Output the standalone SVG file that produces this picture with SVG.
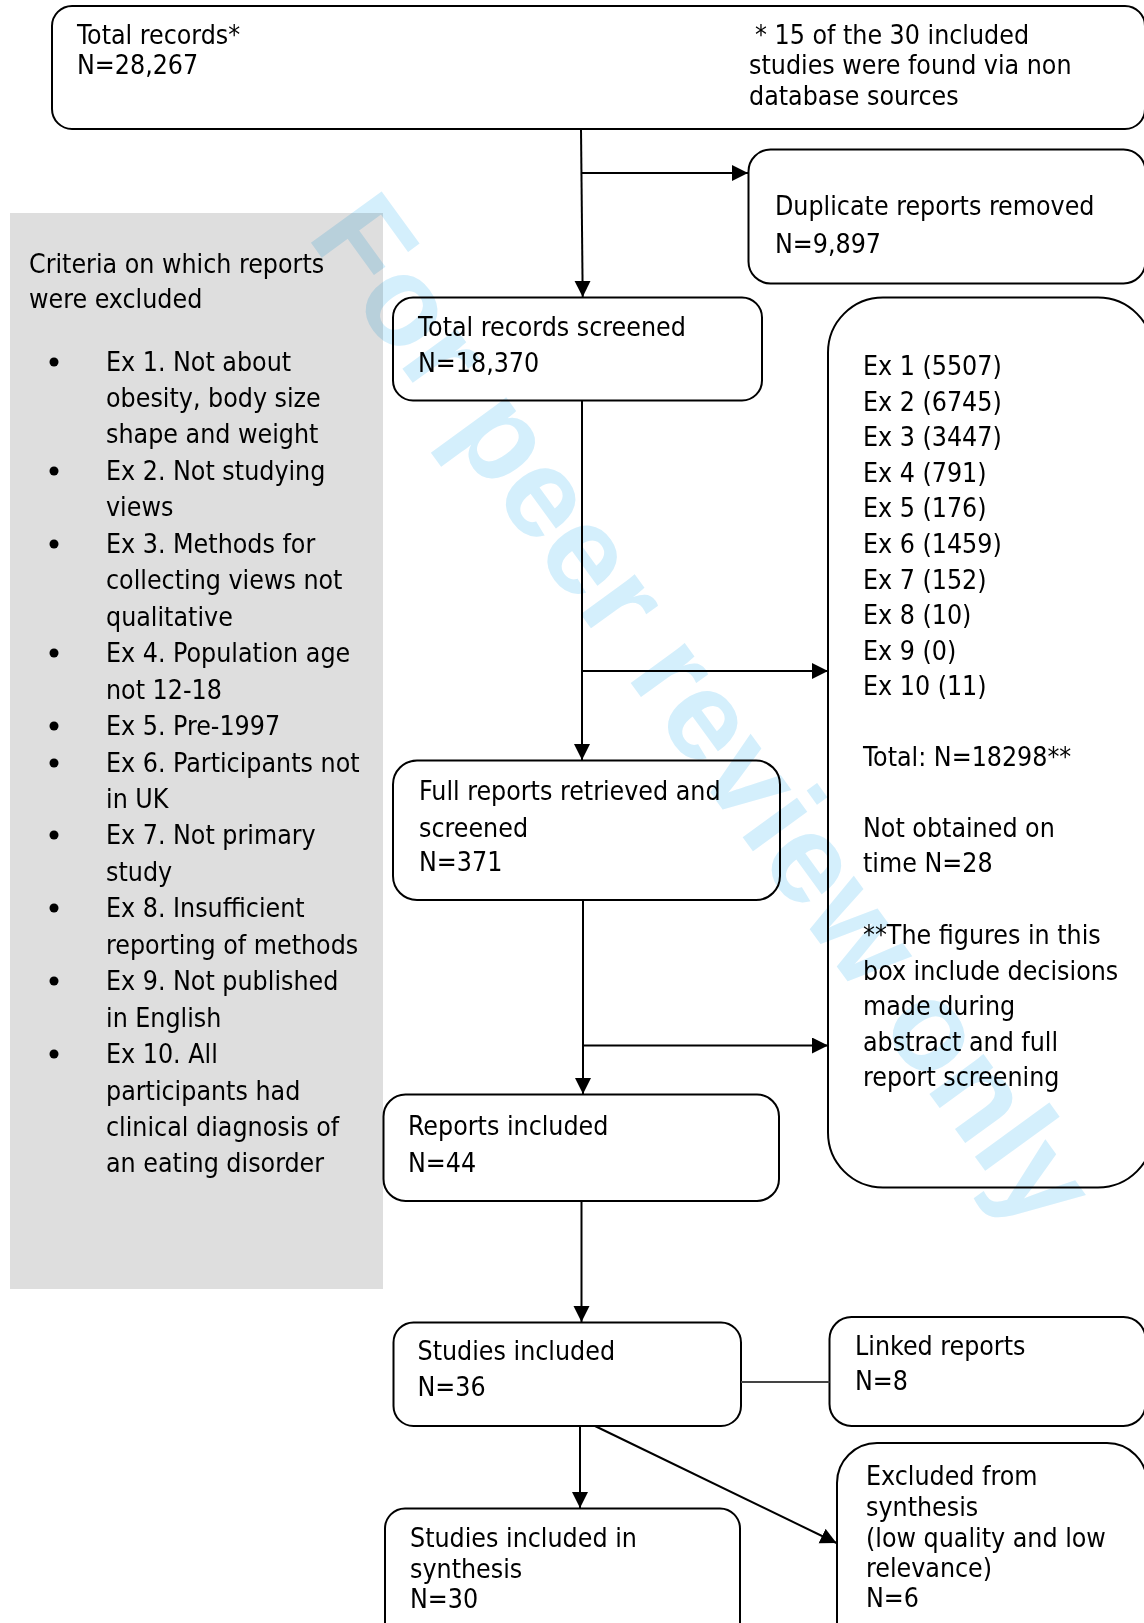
<svg xmlns="http://www.w3.org/2000/svg" width="1144" height="1623" viewBox="0 0 1144 1623">
<style>
  text { font-family: "DejaVu Sans Condensed", "DejaVu Sans", sans-serif; font-stretch: condensed; font-size: 26.5px; fill: #000; }
  .box { fill: #fff; stroke: #000; stroke-width: 2; }
  .conn { stroke: #000; stroke-width: 2; fill: none; }
  .link { stroke: #444; stroke-width: 2; fill: none; }
  .wm { font-family: "Liberation Sans", Arial, sans-serif; font-weight: bold; font-size: 127px; font-stretch: normal; fill: #d4effc; mix-blend-mode: multiply; }
</style>
<defs>
  <marker id="ah" markerUnits="userSpaceOnUse" markerWidth="17" markerHeight="17" refX="16" refY="8" orient="auto">
    <path d="M0,0 L16,8 L0,16 z" fill="#000"/>
  </marker>
</defs>
<rect width="1144" height="1623" fill="#fff"/>

<g id="criteria-panel">
  <rect x="10" y="213" width="373" height="1076" fill="#dedede"/>
  <text x="29" y="273">Criteria on which reports</text>
  <text x="29" y="308">were excluded</text>
  <g fill="#000">
    <circle cx="54" cy="362" r="4.5"/>
    <circle cx="54" cy="471" r="4.5"/>
    <circle cx="54" cy="544" r="4.5"/>
    <circle cx="54" cy="653" r="4.5"/>
    <circle cx="54" cy="726" r="4.5"/>
    <circle cx="54" cy="763" r="4.5"/>
    <circle cx="54" cy="835" r="4.5"/>
    <circle cx="54" cy="908" r="4.5"/>
    <circle cx="54" cy="981" r="4.5"/>
    <circle cx="54" cy="1054" r="4.5"/>
  </g>
  <text x="106" y="370.5">Ex 1. Not about</text>
  <text x="106" y="407">obesity, body size</text>
  <text x="106" y="443.4">shape and weight</text>
  <text x="106" y="479.9">Ex 2. Not studying</text>
  <text x="106" y="516.3">views</text>
  <text x="106" y="552.8">Ex 3. Methods for</text>
  <text x="106" y="589.2">collecting views not</text>
  <text x="106" y="625.7">qualitative</text>
  <text x="106" y="662.1">Ex 4. Population age</text>
  <text x="106" y="698.6">not 12-18</text>
  <text x="106" y="735">Ex 5. Pre-1997</text>
  <text x="106" y="771.5">Ex 6. Participants not</text>
  <text x="106" y="807.9">in UK</text>
  <text x="106" y="844.4">Ex 7. Not primary</text>
  <text x="106" y="880.8">study</text>
  <text x="106" y="917.3">Ex 8. Insufficient</text>
  <text x="106" y="953.7">reporting of methods</text>
  <text x="106" y="990.2">Ex 9. Not published</text>
  <text x="106" y="1026.6">in English</text>
  <text x="106" y="1063.1">Ex 10. All</text>
  <text x="106" y="1099.5">participants had</text>
  <text x="106" y="1136">clinical diagnosis of</text>
  <text x="106" y="1172.4">an eating disorder</text>
</g>

<g id="total-records">
  <rect class="box" x="52" y="6" width="1093" height="123" rx="20" ry="20"/>
  <text x="77" y="43.5">Total records*</text>
  <text x="77" y="74">N=28,267</text>
  <text x="755" y="43.5">* 15 of the 30 included</text>
  <text x="749" y="74">studies were found via non</text>
  <text x="749" y="105">database sources</text>
</g>

<g id="duplicates">
  <rect class="box" x="748.5" y="149.5" width="397" height="134" rx="22" ry="22"/>
  <text x="775" y="215">Duplicate reports removed</text>
  <text x="775" y="252.5">N=9,897</text>
</g>

<g id="screened">
  <rect class="box" x="393" y="297.5" width="369" height="103" rx="20" ry="20"/>
  <text x="418" y="336">Total records screened</text>
  <text x="418" y="372">N=18,370</text>
</g>

<g id="exclusions">
  <rect class="box" x="828" y="297.5" width="325" height="890" rx="55" ry="55"/>
  <text x="863" y="375">Ex 1 (5507)</text>
  <text x="863" y="410.6">Ex 2 (6745)</text>
  <text x="863" y="446.2">Ex 3 (3447)</text>
  <text x="863" y="481.8">Ex 4 (791)</text>
  <text x="863" y="517.4">Ex 5 (176)</text>
  <text x="863" y="553">Ex 6 (1459)</text>
  <text x="863" y="588.6">Ex 7 (152)</text>
  <text x="863" y="624.2">Ex 8 (10)</text>
  <text x="863" y="659.8">Ex 9 (0)</text>
  <text x="863" y="695.4">Ex 10 (11)</text>
  <text x="863" y="766">Total: N=18298**</text>
  <text x="863" y="837">Not obtained on</text>
  <text x="863" y="872">time N=28</text>
  <text x="863" y="944">**The figures in this</text>
  <text x="863" y="979.5">box include decisions</text>
  <text x="863" y="1015">made during</text>
  <text x="863" y="1050.5">abstract and full</text>
  <text x="863" y="1086">report screening</text>
</g>

<g id="full-reports">
  <rect class="box" x="393" y="760.5" width="387" height="139.5" rx="24" ry="24"/>
  <text x="419" y="800">Full reports retrieved and</text>
  <text x="419" y="836.5">screened</text>
  <text x="419" y="871">N=371</text>
</g>

<g id="reports-included">
  <rect class="box" x="383.5" y="1094.5" width="395.5" height="106.5" rx="22" ry="22"/>
  <text x="408" y="1135">Reports included</text>
  <text x="408" y="1172">N=44</text>
</g>

<g id="studies-included">
  <rect class="box" x="393.5" y="1322.5" width="347.5" height="103.5" rx="20" ry="20"/>
  <text x="417.5" y="1360">Studies included</text>
  <text x="417.5" y="1396">N=36</text>
</g>

<g id="linked-reports">
  <rect class="box" x="829.5" y="1317" width="316" height="109" rx="22" ry="22"/>
  <text x="855" y="1355">Linked reports</text>
  <text x="855" y="1390">N=8</text>
</g>

<g id="synthesis">
  <rect class="box" x="385" y="1508.5" width="355" height="160" rx="20" ry="20"/>
  <text x="410" y="1547">Studies included in</text>
  <text x="410" y="1578">synthesis</text>
  <text x="410" y="1608">N=30</text>
</g>

<g id="excluded-synthesis">
  <rect class="box" x="837" y="1443" width="310" height="230" rx="40" ry="40"/>
  <text x="866" y="1485">Excluded from</text>
  <text x="866" y="1515.5">synthesis</text>
  <text x="866" y="1546.5">(low quality and low</text>
  <text x="866" y="1577">relevance)</text>
  <text x="866" y="1607">N=6</text>
</g>

<g id="connectors">
  <path class="conn" d="M581,129 L582.7,297" marker-end="url(#ah)"/>
  <path class="conn" d="M581.5,173 L748,173" marker-end="url(#ah)"/>
  <path class="conn" d="M582,400.5 L582,760" marker-end="url(#ah)"/>
  <path class="conn" d="M582,671 L828,671" marker-end="url(#ah)"/>
  <path class="conn" d="M583,900 L583,1094" marker-end="url(#ah)"/>
  <path class="conn" d="M583,1045.5 L828,1045.5" marker-end="url(#ah)"/>
  <path class="conn" d="M581.5,1201 L581.5,1322" marker-end="url(#ah)"/>
  <path class="link" d="M741,1382 L829.5,1382"/>
  <path class="conn" d="M580,1426 L580,1508" marker-end="url(#ah)"/>
  <path class="conn" d="M595,1426 L836.5,1543" marker-end="url(#ah)"/>
</g>

<text class="wm" transform="translate(306,236) rotate(54)">For peer review only</text>
</svg>
